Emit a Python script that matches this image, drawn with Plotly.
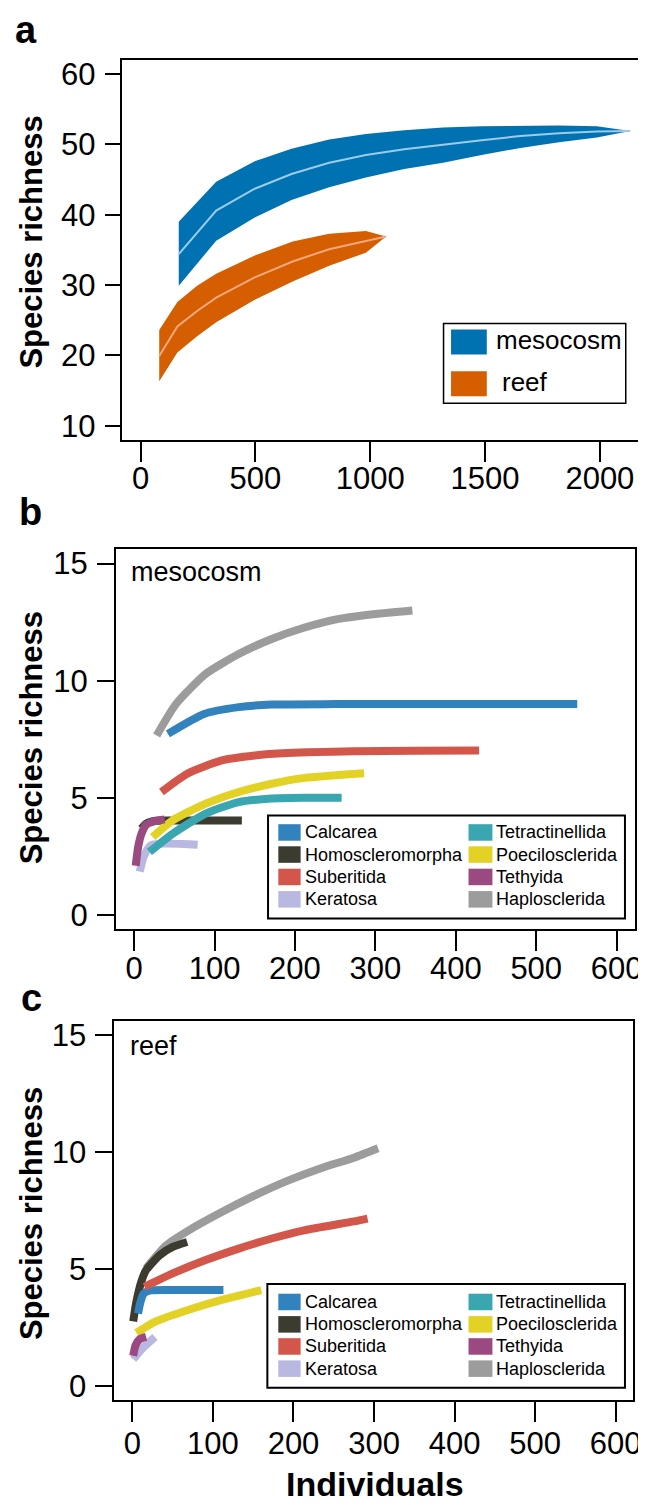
import plotly.graph_objects as go

W, H = 646, 1505

# ---------------- Panel a data ----------------
meso_x = [166, 329, 497, 657, 821, 981, 1148, 1317, 1485, 1654, 1822, 1987, 2132]
meso_upper = [39.0, 44.7, 47.6, 49.4, 50.7, 51.5, 52.0, 52.4, 52.6, 52.7, 52.7, 52.6, 51.9]
meso_lower = [29.9, 36.3, 39.6, 42.1, 43.9, 45.3, 46.5, 47.4, 48.5, 49.5, 50.3, 51.0, 51.9]
meso_mid = [34.4, 40.6, 43.7, 45.8, 47.4, 48.5, 49.3, 50.0, 50.6, 51.2, 51.6, 51.85, 51.9]

reef_x = [81, 160, 246, 329, 497, 662, 821, 981, 1069]
reef_upper = [23.6, 27.6, 29.9, 31.6, 34.2, 36.2, 37.3, 37.7, 36.9]
reef_lower = [16.3, 20.4, 22.7, 24.7, 27.9, 30.5, 32.75, 34.6, 36.9]
reef_mid = [19.9, 24.1, 26.3, 28.2, 31.1, 33.35, 35.1, 36.2, 36.9]

habitats = ["mesocosm", "reef"]

# ---------------- Panel b/c data ----------------
orders = ["Calcarea", "Homoscleromorpha", "Suberitida", "Keratosa",
          "Tetractinellida", "Poecilosclerida", "Tethyida", "Haplosclerida"]
order_colors = ["#3182BD", "#3B3B30", "#D2574A", "#B8B8E0",
                "#3AA6B0", "#E3D226", "#9A4A80", "#9C9C9C"]

meso_calcarea_x = [42, 87, 130, 171, 250, 350, 450, 551]
meso_calcarea_y = [7.73, 8.58, 8.87, 8.98, 9.0, 9.0, 9.0, 9.0]
meso_homo_x = [9, 15, 27, 60, 134]
meso_homo_y = [3.69, 3.9, 4.02, 4.03, 4.03]
meso_suber_x = [34, 66, 109, 150, 191, 273, 350, 429]
meso_suber_y = [5.25, 6.03, 6.6, 6.81, 6.91, 6.99, 7.01, 7.02]
meso_kera_x = [7, 12, 21, 79]
meso_kera_y = [1.85, 2.5, 2.98, 3.0]
meso_tetra_x = [19, 48, 89, 130, 171, 210, 258]
meso_tetra_y = [2.69, 3.47, 4.33, 4.82, 4.97, 5.0, 5.0]
meso_poeci_x = [23, 48, 89, 130, 171, 212, 286]
meso_poeci_y = [3.33, 4.04, 4.75, 5.25, 5.6, 5.85, 6.05]
meso_tethy_x = [2, 5, 9, 15, 27, 38]
meso_tethy_y = [2.1, 2.9, 3.45, 3.85, 4.02, 4.08]
meso_haplo_x = [28, 52, 89, 130, 171, 212, 253, 300, 346]
meso_haplo_y = [7.66, 9.0, 10.29, 11.14, 11.78, 12.27, 12.63, 12.85, 13.0]

reef_calcarea_x = [7, 10, 14, 21, 60, 113]
reef_calcarea_y = [3.1, 3.6, 3.95, 4.08, 4.1, 4.1]
reef_homo_x = [1, 5, 11, 17, 34, 50, 68]
reef_homo_y = [2.76, 3.61, 4.46, 4.95, 5.59, 5.94, 6.15]
reef_suber_x = [15, 50, 91, 132, 173, 213, 275, 292]
reef_suber_y = [4.24, 4.81, 5.38, 5.87, 6.3, 6.65, 7.03, 7.15]
reef_kera_x = [1, 13, 28]
reef_kera_y = [1.15, 1.63, 2.1]
reef_tetra_x = []
reef_tetra_y = []
reef_poeci_x = [5, 29, 70, 111, 160]
reef_poeci_y = [2.27, 2.76, 3.26, 3.68, 4.1]
reef_tethy_x = [1, 4, 9, 17]
reef_tethy_y = [1.3, 1.75, 2.0, 2.1]
reef_haplo_x = [17, 42, 70, 111, 152, 193, 234, 275, 305]
reef_haplo_y = [5.03, 6.01, 6.65, 7.43, 8.14, 8.77, 9.3, 9.75, 10.15]

meso_series = {
    "Calcarea": (meso_calcarea_x, meso_calcarea_y),
    "Homoscleromorpha": (meso_homo_x, meso_homo_y),
    "Suberitida": (meso_suber_x, meso_suber_y),
    "Keratosa": (meso_kera_x, meso_kera_y),
    "Tetractinellida": (meso_tetra_x, meso_tetra_y),
    "Poecilosclerida": (meso_poeci_x, meso_poeci_y),
    "Tethyida": (meso_tethy_x, meso_tethy_y),
    "Haplosclerida": (meso_haplo_x, meso_haplo_y),
}
reef_series = {
    "Calcarea": (reef_calcarea_x, reef_calcarea_y),
    "Homoscleromorpha": (reef_homo_x, reef_homo_y),
    "Suberitida": (reef_suber_x, reef_suber_y),
    "Keratosa": (reef_kera_x, reef_kera_y),
    "Tetractinellida": (reef_tetra_x, reef_tetra_y),
    "Poecilosclerida": (reef_poeci_x, reef_poeci_y),
    "Tethyida": (reef_tethy_x, reef_tethy_y),
    "Haplosclerida": (reef_haplo_x, reef_haplo_y),
}
draw_order = ["Haplosclerida", "Keratosa", "Homoscleromorpha", "Calcarea",
              "Suberitida", "Tetractinellida", "Poecilosclerida", "Tethyida"]

a_xticks = [0, 500, 1000, 1500, 2000]
a_yticks = [10, 20, 30, 40, 50, 60]
bc_xticks = [0, 100, 200, 300, 400, 500, 600]
bc_yticks = [0, 5, 10, 15]

FONT = "Liberation Sans, Arial, Helvetica, sans-serif"


def px(x):
    return x / W


def py(y):
    return 1 - y / H


fig = go.Figure()

# ---- panel a bands ----
band_cols = {"mesocosm": ("#0072B2", "#9CCBEA"), "reef": ("#D55E00", "#F5A77F")}
for name, xs, lo, up, mid in [("mesocosm", meso_x, meso_lower, meso_upper, meso_mid),
                              ("reef", reef_x, reef_lower, reef_upper, reef_mid)]:
    fc, lc = band_cols[name]
    fig.add_trace(go.Scatter(x=xs, y=lo, mode="lines", line=dict(width=0, color=fc),
                             showlegend=False, xaxis="x", yaxis="y", hoverinfo="skip"))
    fig.add_trace(go.Scatter(x=xs, y=up, mode="lines", line=dict(width=0, color=fc),
                             fill="tonexty", fillcolor=fc, showlegend=False,
                             xaxis="x", yaxis="y", name=name))
    fig.add_trace(go.Scatter(x=xs, y=mid, mode="lines", line=dict(width=2, color=lc),
                             showlegend=False, xaxis="x", yaxis="y", hoverinfo="skip"))

# ---- panels b, c ----
for series, xa, ya in [(meso_series, "x2", "y2"), (reef_series, "x3", "y3")]:
    for name in draw_order:
        xs, ys = series[name]
        if not xs:
            continue
        col = order_colors[orders.index(name)]
        fig.add_trace(go.Scatter(x=xs, y=ys, mode="lines",
                                 line=dict(width=8, color=col, shape="spline", smoothing=0.6),
                                 showlegend=False, xaxis=xa, yaxis=ya, name=name))


def axis_common(**kw):
    d = dict(showgrid=False, zeroline=False, showline=True, linewidth=2,
             linecolor="black", mirror=True, ticks="outside", tickwidth=2,
             tickcolor="black", tickfont=dict(family=FONT, size=31, color="black"))
    d.update(kw)
    return d


fig.update_layout(
    width=W, height=H, margin=dict(l=0, r=0, t=0, b=0),
    paper_bgcolor="white", plot_bgcolor="white", showlegend=False,
    xaxis=axis_common(domain=[px(115), px(640)], range=[-83, 2175], anchor="y",
                      tickvals=a_xticks, ticklen=20, ticklabelstandoff=-10),
    yaxis=axis_common(domain=[py(430.7), py(49.3)], range=[8, 62], anchor="x",
                      tickvals=a_yticks, ticklen=15, ticklabelstandoff=3),
    xaxis2=axis_common(domain=[px(109.3), px(634.7)], range=[-22.6, 622.6], anchor="y2",
                       tickvals=bc_xticks, ticklen=20, ticklabelstandoff=-9),
    yaxis2=axis_common(domain=[py(922.3), py(541)], range=[-0.6, 15.6], anchor="x2",
                       tickvals=bc_yticks, ticklen=17, ticklabelstandoff=3),
    xaxis3=axis_common(domain=[px(107.7), px(633)], range=[-22.4, 621.7], anchor="y3",
                       tickvals=bc_xticks, ticklen=20, ticklabelstandoff=-5),
    yaxis3=axis_common(domain=[py(1395.7), py(1014.3)], range=[-0.6, 15.6], anchor="x3",
                       tickvals=bc_yticks, ticklen=17, ticklabelstandoff=3),
)

shapes = []
ann = []


def text(x, y, s, size, bold=False, xanchor="left", angle=0):
    ann.append(dict(x=px(x), y=py(y), xref="paper", yref="paper", text=(f"<b>{s}</b>" if bold else s),
                    showarrow=False, xanchor=xanchor, yanchor="middle", textangle=angle,
                    font=dict(family=FONT, size=size, color="black")))


# panel letters
text(5, 19, "a", 38, bold=True)
text(9, 503, "b", 38, bold=True)
text(11, 992, "c", 38, bold=True)

# axis titles
for yc in [232, 730, 1208]:
    text(24, yc, "Species richness", 31, bold=True, xanchor="center", angle=-90)
text(372, 1480, "Individuals", 34, bold=True, xanchor="center")

# panel a legend
shapes.append(dict(type="rect", xref="paper", yref="paper", x0=px(441), x1=px(625.5),
                   y0=py(314), y1=py(394), line=dict(color="black", width=1.5)))
for i, (name, yc, tx) in enumerate([("mesocosm", 332.5, 492), ("reef", 374.5, 498)]):
    fc = band_cols[habitats[i]][0]
    shapes.append(dict(type="rect", xref="paper", yref="paper", x0=px(448.6), x1=px(484.8),
                       y0=py(yc - 12.5), y1=py(yc + 12.5), line=dict(width=0), fillcolor=fc))
    text(tx, yc - 2, habitats[i], 26)

# panel-inner labels
text(123, 564, "mesocosm", 27)
text(122, 1040, "reef", 27)

# order legends
for (top, bot, l, r, rows) in [(808.3, 911.7, 263.3, 624.7, [825.3, 847.5, 870, 892.5]),
                               (1279, 1383.3, 262.6, 624.7, [1297, 1319.5, 1341.7, 1364])]:
    shapes.append(dict(type="rect", xref="paper", yref="paper", x0=px(l), x1=px(r),
                       y0=py(top), y1=py(bot), line=dict(color="black", width=2)))
    for k, name in enumerate(orders):
        col = k // 4
        row = k % 4
        yc = rows[row]
        sx0 = 273.7 if col == 0 else 466.3
        sx1 = 296.3 if col == 0 else 490.5
        tx = 298.5 if col == 0 else 492
        shapes.append(dict(type="rect", xref="paper", yref="paper", x0=px(sx0), x1=px(sx1),
                           y0=py(yc - 8.3), y1=py(yc + 8.3), line=dict(width=0),
                           fillcolor=order_colors[k]))
        text(tx, yc, name, 18)

fig.update_layout(shapes=shapes, annotations=ann)
fig.write_html("out.html")
